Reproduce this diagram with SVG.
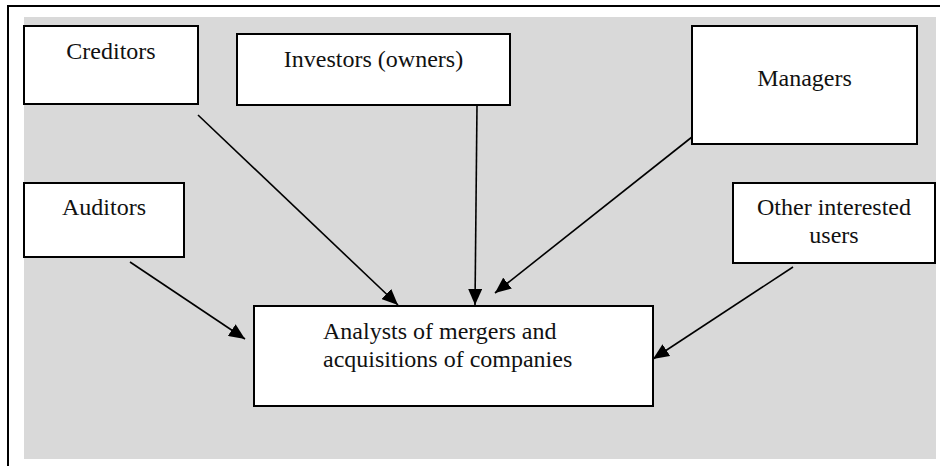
<svg xmlns="http://www.w3.org/2000/svg" width="940" height="466" viewBox="0 0 940 466">
<style>
.box{fill:#fff;stroke:#000;stroke-width:2}
.lbl{font-family:"Liberation Serif","Times New Roman",serif;font-size:24px;fill:#111}
.c{text-anchor:middle}
.conn{stroke:#000;stroke-width:1.6;fill:none;marker-end:url(#ah)}
</style>
<defs>
<marker id="ah" markerUnits="userSpaceOnUse" markerWidth="18" markerHeight="14" refX="16" refY="7" orient="auto">
<path d="M0,0 L16,7 L0,14 Z" fill="#000"/>
</marker>
</defs>
<rect x="0" y="0" width="940" height="466" fill="#fff"/>
<rect x="24" y="17" width="912" height="442" fill="#d9d9d9"/>
<path d="M8,466 V6 H940" fill="none" stroke="#000" stroke-width="2"/>
<g id="creditors"><rect class="box" x="24" y="26" width="174" height="78"/><text class="lbl c" x="111" y="59">Creditors</text></g>
<g id="investors"><rect class="box" x="237" y="34" width="273" height="71"/><text class="lbl c" x="373.5" y="67">Investors (owners)</text></g>
<g id="managers"><rect class="box" x="692" y="26" width="225" height="118"/><text class="lbl c" x="804.5" y="86">Managers</text></g>
<g id="auditors"><rect class="box" x="24" y="183" width="160" height="74"/><text class="lbl c" x="104" y="215">Auditors</text></g>
<g id="other"><rect class="box" x="733" y="183" width="202" height="80"/><text class="lbl c" x="834" y="215">Other interested</text><text class="lbl c" x="834" y="243">users</text></g>
<g id="analysts"><rect class="box" x="254" y="306" width="399" height="100"/><text class="lbl" x="323" y="339">Analysts of mergers and</text><text class="lbl" x="323" y="367">acquisitions of companies</text></g>
<g id="connectors">
<line class="conn" x1="198" y1="115" x2="398" y2="305"/>
<line class="conn" x1="477" y1="105" x2="475" y2="305"/>
<line class="conn" x1="692" y1="137" x2="495" y2="293"/>
<line class="conn" x1="130" y1="262" x2="245" y2="339"/>
<line class="conn" x1="793" y1="267" x2="653" y2="359"/>
</g>
</svg>
